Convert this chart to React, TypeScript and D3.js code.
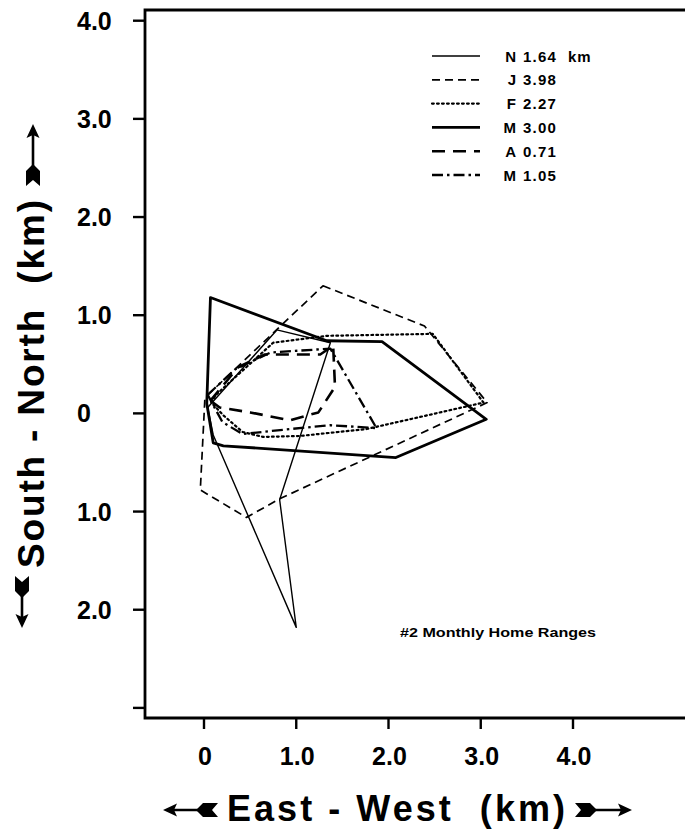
import React from "react";
import * as d3 from "d3";

// ---- data (km) ----
const novX = [0.04, 0.79, 1.37, 0.82, 1.0, 0.1];
const novY = [0.06, 0.85, 0.72, -0.88, -2.18, -0.22];

const janX = [1.29, 2.39, 3.07, 0.82, 0.46, -0.04, 0.01];
const janY = [1.3, 0.89, 0.11, -0.87, -1.06, -0.78, 0.16];

const febX = [0.08, 0.13, 0.75, 1.33, 2.48, 3.03, 1.76, 1.04, 0.64, 0.42, 0.21];
const febY = [0.11, 0.19, 0.72, 0.79, 0.81, 0.11, -0.16, -0.23, -0.24, -0.19, -0.02];

const marX = [0.07, 1.33, 1.93, 3.06, 2.08, 0.21, 0.1, 0.03];
const marY = [1.18, 0.74, 0.73, -0.06, -0.45, -0.33, -0.3, 0.1];

const aprX = [0.07, 0.37, 0.66, 1.26, 1.4, 1.42, 1.24, 0.93, 0.5, 0.17];
const aprY = [0.13, 0.47, 0.6, 0.6, 0.69, 0.27, 0.01, -0.07, 0.01, 0.06];

const mayX = [0.04, 0.34, 0.72, 1.37, 1.87, 1.37, 0.93, 0.42, 0.2];
const mayY = [0.19, 0.45, 0.62, 0.66, -0.15, -0.12, -0.16, -0.21, -0.09];

const monthLetters = ["N", "J", "F", "M", "A", "M"];
const monthAreas = ["1.64", "3.98", "2.27", "3.00", "0.71", "1.05"];

const yTickValues = [4, 3, 2, 1, 0, -1, -2, -3];
const yTickLabels = ["4.0", "3.0", "2.0", "1.0", "0", "1.0", "2.0", ""];
const xTickValues = [0, 1, 2, 3, 4];
const xTickLabels = ["0", "1.0", "2.0", "3.0", "4.0"];

const series = [
  { xs: novX, ys: novY, w: 1.4, dash: "none" },
  { xs: janX, ys: janY, w: 1.7, dash: "8,5" },
  { xs: febX, ys: febY, w: 2.2, dash: "1.8,3.2" },
  { xs: marX, ys: marY, w: 2.8, dash: "none" },
  { xs: aprX, ys: aprY, w: 2.6, dash: "13,8" },
  { xs: mayX, ys: mayY, w: 2.3, dash: "11,4,2.5,4" },
];

const FONT = "'Liberation Sans', Arial, Helvetica, sans-serif";

function Arrow({ tx, ty, angle, len }: { tx: number; ty: number; angle: number; len: number }) {
  const L = len;
  return (
    <g transform={`translate(${tx},${ty}) rotate(${angle})`}>
      <line x1={-8} y1={0} x2={-L + 6} y2={0} stroke="#000" strokeWidth={2.6} />
      <path d={`M0,0 L-14,-6.5 L-11,0 L-14,6.5 Z`} fill="#000" />
      <path
        d={`M${-L + 22},0 L${-L + 15},-7 L${-L},-7 L${-L + 6},0 L${-L},7 L${-L + 15},7 Z`}
        fill="#000"
      />
    </g>
  );
}

export default function App() {
  const x = d3.scaleLinear().domain([0, 4]).range([204, 573]);
  const y = d3.scaleLinear().domain([-3, 4]).range([707.9, 20.7]);

  const line = d3
    .line<[number, number]>()
    .x((d) => x(d[0]))
    .y((d) => y(d[1]))
    .curve(d3.curveLinearClosed);

  const legendLine = d3
    .line<[number, number]>()
    .x((d) => d[0])
    .y((d) => d[1]);

  const left = 145;
  const top = 10;
  const bottom = 718;

  return (
    <svg
      width={685}
      height={832}
      style={{ position: "absolute", left: 0, top: 0, background: "#fff" }}
      fontFamily={FONT}
    >
      <rect x={0} y={0} width={685} height={832} fill="#fff" />

      {/* polygons */}
      <g fill="none" stroke="#000" strokeLinejoin="round">
        {series.map((s, i) => (
          <path
            key={i}
            d={line(s.xs.map((v, j) => [v, s.ys[j]] as [number, number])) || ""}
            strokeWidth={s.w}
            strokeDasharray={s.dash}
            strokeLinecap={i === 2 ? "round" : "butt"}
          />
        ))}
      </g>

      {/* frame */}
      <path
        d={`M685,${top} H${left} V${bottom} H685`}
        fill="none"
        stroke="#000"
        strokeWidth={2.8}
      />

      {/* y ticks */}
      {yTickValues.map((v, i) => (
        <g key={"y" + i}>
          <line x1={133} x2={left} y1={y(v)} y2={y(v)} stroke="#000" strokeWidth={2.4} />
          <text x={77} y={y(v) + 9} fontSize={25} fontWeight="bold">
            {yTickLabels[i]}
          </text>
        </g>
      ))}

      {/* x ticks */}
      {xTickValues.map((v, i) => (
        <g key={"x" + i}>
          <line x1={x(v)} x2={x(v)} y1={bottom} y2={729} stroke="#000" strokeWidth={2.4} />
          <text x={x(v) + 1} y={765} fontSize={25} fontWeight="bold" textAnchor="middle">
            {xTickLabels[i]}
          </text>
        </g>
      ))}

      {/* legend */}
      {series.map((s, i) => {
        const ly = 56 + i * 23.8;
        return (
          <g key={"lg" + i}>
            <path
              d={legendLine([[432, ly], [480, ly]]) || ""}
              stroke="#000"
              fill="none"
              strokeWidth={s.w}
              strokeDasharray={s.dash}
              strokeLinecap={i === 2 ? "round" : "butt"}
            />
            <text x={516} y={ly + 5.5} fontSize={15} fontWeight="bold" textAnchor="end">
              {monthLetters[i]}
            </text>
            <text x={523} y={ly + 5.5} fontSize={15} fontWeight="bold" letterSpacing={1.2}>
              {monthAreas[i]}
            </text>
            {i === 0 && (
              <text x={568} y={ly + 5.5} fontSize={15} fontWeight="bold" letterSpacing={1}>
                km
              </text>
            )}
          </g>
        );
      })}

      {/* annotation */}
      <text x={400} y={637} fontSize={13} fontWeight="bold" textLength={196} lengthAdjust="spacingAndGlyphs">
        #2 Monthly Home Ranges
      </text>

      {/* x-axis title */}
      <text
        x={227}
        y={821}
        fontSize={36}
        fontWeight="bold"
        textLength={338}
        lengthAdjust="spacing"
        xmlSpace="preserve"
      >
        East - West  (km)
      </text>
      <Arrow tx={163} ty={810} angle={180} len={55} />
      <Arrow tx={632} ty={810} angle={0} len={57} />

      {/* y-axis title */}
      <g transform="translate(44,384) rotate(-90)">
        <text
          x={-184}
          y={0}
          fontSize={37}
          fontWeight="bold"
          textLength={368}
          lengthAdjust="spacing"
          xmlSpace="preserve"
        >
          South - North  (km)
        </text>
      </g>
      <Arrow tx={33} ty={124} angle={-90} len={62} />
      <Arrow tx={22} ty={628} angle={90} len={52} />
    </svg>
  );
}
